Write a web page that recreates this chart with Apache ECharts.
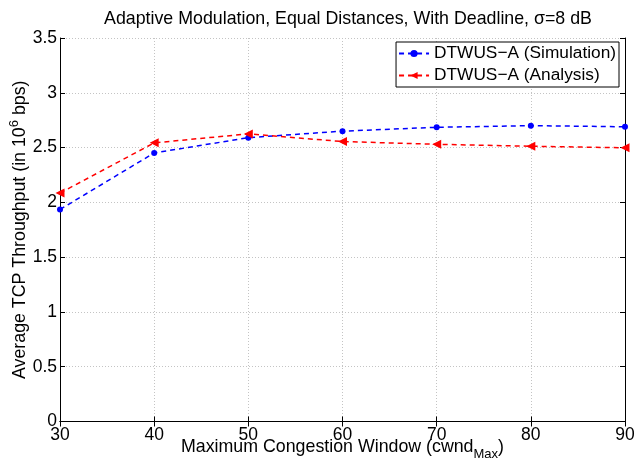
<!DOCTYPE html>
<html><head><meta charset="utf-8">
<script src="https://cdn.jsdelivr.net/npm/echarts@6/dist/echarts.min.js"></script>
<style>html,body{margin:0;padding:0;background:#fff}#c{width:634px;height:463px}</style>
</head><body><div id="c"></div>
<script>
const categories = [30, 40, 50, 60, 70, 80, 90];
const simValues = [1.935, 2.451, 2.59, 2.65, 2.685, 2.70, 2.69];
const anaValues = [2.085, 2.543, 2.625, 2.555, 2.53, 2.512, 2.498];
const yTicks = [0, 0.5, 1, 1.5, 2, 2.5, 3, 3.5];
const simName = 'DTWUS\u2212A (Simulation)';
const anaName = 'DTWUS\u2212A (Analysis)';

const font = 'Liberation Sans, Arial, Helvetica, sans-serif';
const chart = echarts.init(document.getElementById('c'), null, {renderer: 'canvas'});
const pair = arr => categories.map((x, i) => [x, arr[i]]);
const gridLine = {show: true, lineStyle: {color: '#c4c4c4', type: [1, 2], width: 1}};
chart.setOption({
  animation: false,
  backgroundColor: '#fff',
  title: {
    text: 'Adaptive Modulation, Equal Distances, With Deadline, \u03c3=8 dB',
    left: 343, top: 5, textAlign: 'center',
    textStyle: {fontFamily: font, fontSize: 17.8, fontWeight: 'normal', color: '#000'}
  },
  grid: {left: 60, right: 9, top: 38, bottom: 41.5, containLabel: false, outerBoundsMode: 'none'},
  legend: {
    right: 15, top: 42, orient: 'vertical',
    backgroundColor: '#fff', borderColor: '#000', borderWidth: 1,
    padding: [3, 3, 3, 2], itemGap: 5, itemWidth: 30, itemHeight: 9,
    textStyle: {fontFamily: font, fontSize: 17.3, color: '#000'},
    data: [simName, anaName]
  },
  xAxis: [{
    type: 'value', min: 30, max: 90, interval: 10,
    name: '{a|Maximum Congestion Window (cwnd}{s|Max}{a|)}',
    nameLocation: 'middle', nameGap: 12, nameMoveOverlap: false,
    nameTextStyle: {rich: {
      a: {fontFamily: font, fontSize: 17.8, color: '#000'},
      s: {fontFamily: font, fontSize: 13, color: '#000', padding: [14, 0, 0, 0]}
    }},
    axisLine: {show: true, lineStyle: {color: '#000', width: 1}},
    axisTick: {show: true, inside: true, length: 5, lineStyle: {color: '#000'}},
    axisLabel: {fontFamily: font, fontSize: 17.5, color: '#000', margin: 5},
    splitLine: gridLine
  }, {
    type: 'value', min: 30, max: 90, interval: 10, position: 'top',
    axisLine: {show: true, lineStyle: {color: '#000', width: 1}},
    axisTick: {show: true, inside: true, length: 5, lineStyle: {color: '#000'}},
    axisLabel: {show: false}, splitLine: {show: false}
  }],
  yAxis: [{
    type: 'value', min: 0, max: 3.5, interval: 0.5,
    name: '{a|Average TCP Throughput (in 10}{s|6}{a| bps)}',
    nameLocation: 'middle', nameGap: 28, nameMoveOverlap: false,
    nameTextStyle: {rich: {
      a: {fontFamily: font, fontSize: 17.8, color: '#000'},
      s: {fontFamily: font, fontSize: 13, color: '#000', padding: [0, 0, 11, 0]}
    }},
    axisLine: {show: true, lineStyle: {color: '#000', width: 1}},
    axisTick: {show: true, inside: true, length: 5, lineStyle: {color: '#000'}},
    axisLabel: {fontFamily: font, fontSize: 17.5, color: '#000', margin: 3,
      formatter: v => yTicks.includes(v) ? String(v) : ''},
    splitLine: gridLine
  }, {
    type: 'value', min: 0, max: 3.5, interval: 0.5, position: 'right',
    axisLine: {show: true, lineStyle: {color: '#000', width: 1}},
    axisTick: {show: true, inside: true, length: 5, lineStyle: {color: '#000'}},
    axisLabel: {show: false}, splitLine: {show: false}
  }],
  series: [{
    name: simName, type: 'line', data: pair(simValues),
    symbol: 'circle', symbolSize: 6, showAllSymbol: true,
    itemStyle: {color: '#0000ff'},
    lineStyle: {color: '#0000ff', width: 1.5, type: [5, 4]}
  }, {
    name: anaName, type: 'line', data: pair(anaValues),
    symbol: 'triangle', symbolSize: 9, symbolRotate: 90, showAllSymbol: true,
    itemStyle: {color: '#ff0000'},
    lineStyle: {color: '#ff0000', width: 1.5, type: [5, 4]}
  }]
});
</script></body></html>
